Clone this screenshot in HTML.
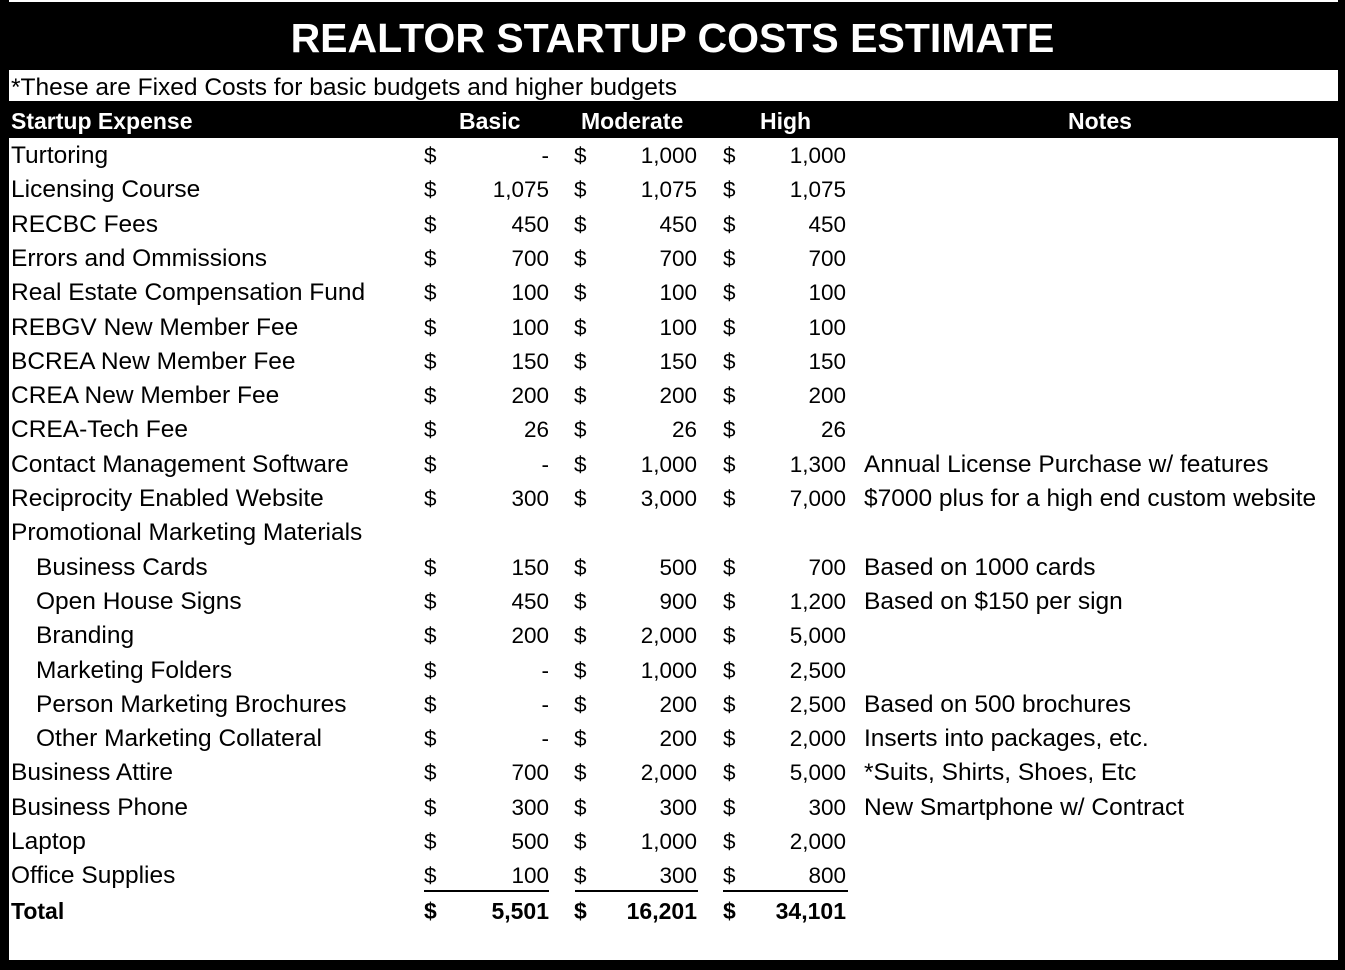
<!DOCTYPE html>
<html><head><style>
body{margin:0;width:1345px;height:970px;background:#fff;position:relative;overflow:hidden;font-family:"Liberation Sans",sans-serif;color:#000}
.b{position:absolute;background:#000}
.t{position:absolute;white-space:nowrap;font-size:24.5px;line-height:26px}
.r{text-align:right}
.w{color:#fff;font-weight:bold;font-size:23px}
</style></head><body>
<div class="b" style="left:0;top:2px;width:1345px;height:68px"></div>
<div class="b" style="left:0;top:0;width:9px;height:970px"></div>
<div class="b" style="left:1338px;top:0;width:7px;height:970px"></div>
<div class="b" style="left:0;top:101px;width:1345px;height:37px"></div>
<div class="b" style="left:0;top:960px;width:1345px;height:10px"></div>
<div class="t w" style="left:0;width:1345px;top:15px;text-align:center;font-size:41px;line-height:46px">REALTOR STARTUP COSTS ESTIMATE</div>
<div class="t" style="left:11px;top:75px">*These are Fixed Costs for basic budgets and higher budgets</div>
<div class="t w" style="left:11px;top:108px">Startup Expense</div>
<div class="t w" style="left:459px;top:108px">Basic</div>
<div class="t w" style="left:581px;top:108px">Moderate</div>
<div class="t w" style="left:760px;top:108px">High</div>
<div class="t w" style="left:1068px;top:108px">Notes</div>
<div class="b" style="left:424px;top:890px;width:125px;height:2px"></div>
<div class="b" style="left:575px;top:890px;width:123px;height:2px"></div>
<div class="b" style="left:723px;top:890px;width:125px;height:2px"></div>
<div id="rows"></div>
<script>
var d=[
["Turtoring","-","1,000","1,000",""],
["Licensing Course","1,075","1,075","1,075",""],
["RECBC Fees","450","450","450",""],
["Errors and Ommissions","700","700","700",""],
["Real Estate Compensation Fund","100","100","100",""],
["REBGV New Member Fee","100","100","100",""],
["BCREA New Member Fee","150","150","150",""],
["CREA New Member Fee","200","200","200",""],
["CREA-Tech Fee","26","26","26",""],
["Contact Management Software","-","1,000","1,300","Annual License Purchase w/ features"],
["Reciprocity Enabled Website","300","3,000","7,000","$7000 plus for a high end custom website"],
["Promotional Marketing Materials",null],
["  Business Cards","150","500","700","Based on 1000 cards"],
["  Open House Signs","450","900","1,200","Based on $150 per sign"],
["  Branding","200","2,000","5,000",""],
["  Marketing Folders","-","1,000","2,500",""],
["  Person Marketing Brochures","-","200","2,500","Based on 500 brochures"],
["  Other Marketing Collateral","-","200","2,000","Inserts into packages, etc."],
["Business Attire","700","2,000","5,000","*Suits, Shirts, Shoes, Etc"],
["Business Phone","300","300","300","New Smartphone w/ Contract"],
["Laptop","500","1,000","2,000",""],
["Office Supplies","100","300","800",""],
["Total","5,501","16,201","34,101",""]];
var h="";
d.forEach(function(r,i){
var y=143+i*34.3;var bold=i==22?"font-weight:bold;font-size:23px;":"";
var ind=r[0].indexOf("  ")==0;
var nf=i<22?"font-size:22.5px;":"";
h+='<div class="t" style="'+bold+'left:'+(ind?36:11)+'px;top:'+y+'px">'+r[0].trim()+'</div>';
if(r[1]===null)return;
var xs=[[424,549],[574,697],[723,846]];
for(var k=0;k<3;k++){
h+='<div class="t" style="'+nf+bold+'left:'+xs[k][0]+'px;top:'+y+'px">$</div>';
h+='<div class="t r" style="'+nf+bold+'left:'+(xs[k][1]-120)+'px;width:120px;top:'+y+'px">'+r[k+1]+'</div>';}
if(r[4])h+='<div class="t" style="left:864px;top:'+y+'px">'+r[4]+'</div>';
});
document.getElementById("rows").innerHTML=h;
</script>
</body></html>
